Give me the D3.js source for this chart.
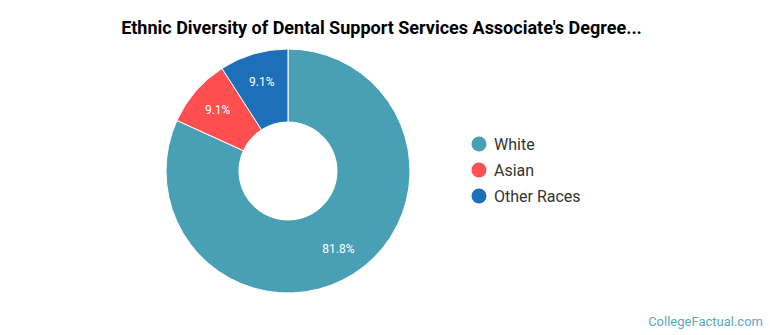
<!DOCTYPE html>
<html lang="en"><head>
<meta charset="utf-8">
<title>ethnic diversity donut</title>
<script src="https://cdn.jsdelivr.net/npm/d3@7"></script>
<style>
  body { margin: 0; background: #fff; }
  svg { font-family: Roboto, "Open Sans", sans-serif; }
</style>
</head>
<body>
<svg width="770" height="335"></svg>
<script>
var categories = ["White", "Asian", "Other Races"];
var shares = [81.8, 9.1, 9.1];
var labels = ["81.8%", "9.1%", "9.1%"];
var colors = ["#49a0b5", "#ff5051", "#1d70b7"];

var svg = d3.select("svg"),
    width = +svg.attr("width"),
    height = +svg.attr("height");

// title
svg.append("text")
   .attr("x", 381.5)
   .attr("y", 34)
   .attr("text-anchor", "middle")
   .attr("font-size", "18px")
   .attr("font-weight", "bold")
   .attr("fill", "#000")
   .text("Ethnic Diversity of Dental Support Services Associate's Degree...");

var cx = 288, cy = 171, outer = 122, inner = 49;

var pie = d3.pie().sort(null).value(function(d){ return d; });
var arc = d3.arc().innerRadius(inner).outerRadius(outer);
var labelArc = d3.arc().innerRadius(93).outerRadius(93);

var g = svg.append("g").attr("transform", "translate(" + cx + "," + cy + ")");
var arcs = pie(shares);

g.selectAll("path")
 .data(arcs)
 .enter()
 .append("path")
 .attr("d", arc)
 .attr("fill", function(d, i){ return colors[i]; })
 .attr("stroke", "#fff")
 .attr("stroke-width", 1);

g.selectAll("text.lbl")
 .data(arcs)
 .enter()
 .append("text")
 .attr("class", "lbl")
 .attr("transform", function(d){ return "translate(" + labelArc.centroid(d) + ")"; })
 .attr("text-anchor", "middle")
 .attr("dy", "0.35em")
 .attr("font-size", "12px")
 .attr("fill", "#fff")
 .text(function(d, i){ return labels[i]; });

// legend
var legend = svg.append("g");
legend.selectAll("circle")
  .data(categories)
  .enter()
  .append("circle")
  .attr("cx", 479)
  .attr("cy", function(d, i){ return 144 + i * 26; })
  .attr("r", 7.5)
  .attr("fill", function(d, i){ return colors[i]; });

legend.selectAll("text")
  .data(categories)
  .enter()
  .append("text")
  .attr("x", 494)
  .attr("y", function(d, i){ return 144 + i * 26; })
  .attr("dy", "0.35em")
  .attr("font-size", "16px")
  .attr("fill", "#333")
  .text(function(d){ return d; });

// watermark
svg.append("text")
   .attr("x", 763)
   .attr("y", 326)
   .attr("text-anchor", "end")
   .attr("font-size", "13px")
   .attr("fill", "#5aa9bf")
   .text("CollegeFactual.com");
</script>
</body>
</html>
